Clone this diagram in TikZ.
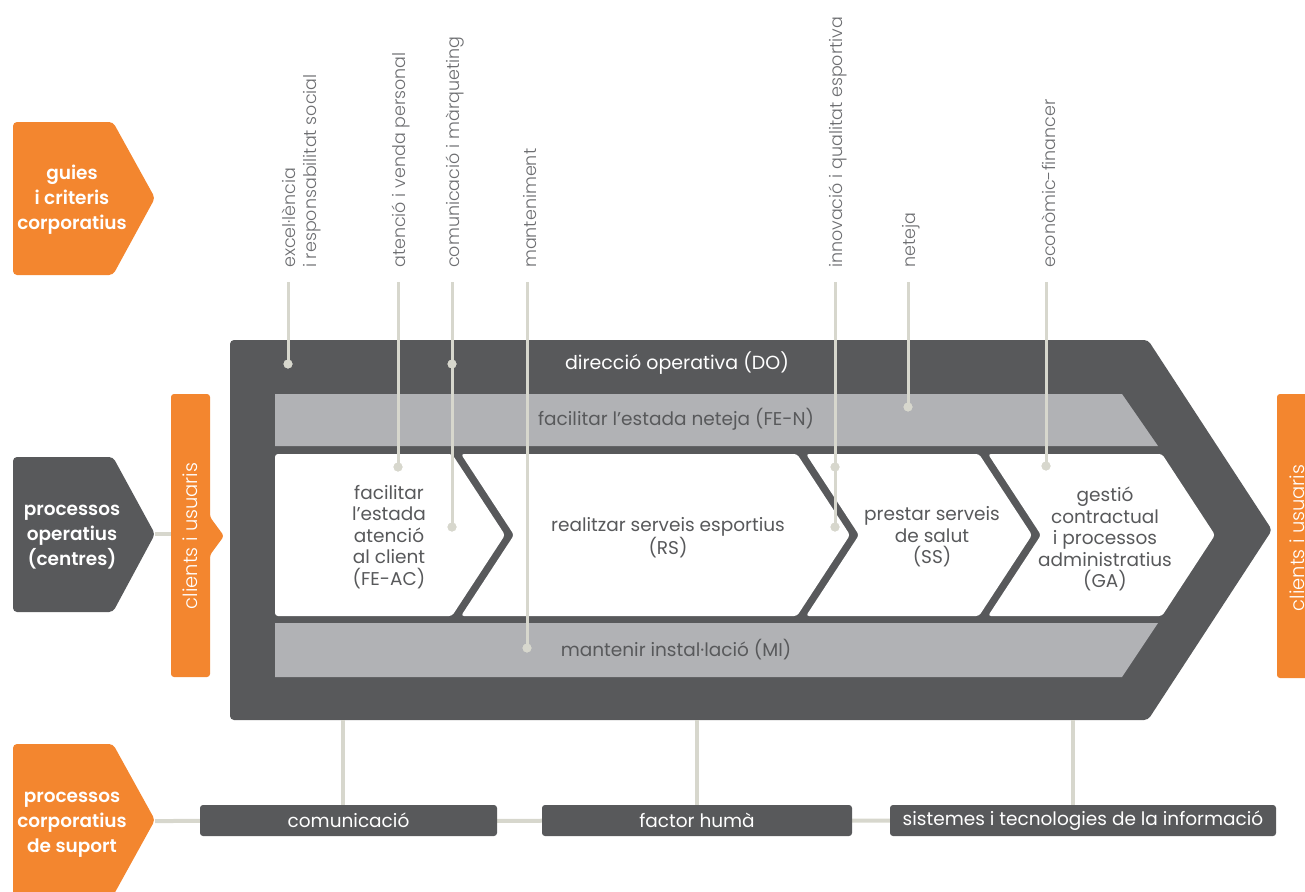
\documentclass[tikz,border=0pt]{standalone}
\usepackage{fontspec}
\setmainfont{Poppins}
\newfontfamily\lightf{Poppins Light}
\newfontfamily\medf{Poppins SemiBold}
\usetikzlibrary{backgrounds}
\definecolor{orng}{HTML}{F3862F}
\definecolor{dgray}{HTML}{58595B}
\definecolor{lgray}{HTML}{B1B2B5}
\definecolor{leadc}{HTML}{D7D7CD}
\definecolor{labc}{HTML}{6D6E71}
\begin{document}
\begin{tikzpicture}[x=1pt,y=-1pt,
  lead/.style={draw=leadc, line width=3pt},
  dotn/.style={circle, fill=leadc, inner sep=0pt, minimum size=9pt},
  toplabel/.style={rotate=90, anchor=west, text=labc, inner sep=0pt, align=left,
     font=\lightf\fontsize{17.5}{21}\selectfont},
  chevtext/.style={text=dgray, align=center, font=\fontsize{18.5}{21.5}\selectfont},
  striptext/.style={text=dgray, font=\fontsize{18.5}{21}\selectfont},
  lefttext/.style={text=white, align=center, font=\medf\fontsize{18.5}{25}\selectfont},
  clienttext/.style={rotate=90, text=white, font=\lightf\fontsize{19.5}{21}\selectfont},
  supbox/.style={fill=dgray, text=white, rounded corners=3pt, minimum height=31pt,
     inner sep=0pt, font=\fontsize{18.5}{21}\selectfont}
]
\useasboundingbox (0,0) rectangle (1305,891);
\clip (0,0) rectangle (1305,891);

% left labels
\fill[orng, rounded corners=4pt] (13,122) -- (113,122) -- (155,198) -- (113,275) -- (13,275) -- cycle;
\node[lefttext] (guies) at (72,200) {guies\\i criteris\\corporatius};
\fill[dgray, rounded corners=4pt] (13,457) -- (113,457) -- (155,534) -- (113,612) -- (13,612) -- cycle;
\coordinate (optip) at (155,534);
\node[lefttext] (oper) at (72,537) {processos\\operatius\\(centres)};
\fill[orng, rounded corners=4pt] (13,744) -- (113,744) -- (155,820) -- (113,896) -- (13,896) -- cycle;
\coordinate (suptip) at (155,821);
\node[lefttext] (supp) at (72,825) {processos\\corporatius\\de suport};

% clients bars
\fill[orng, rounded corners=3pt] (171,394) -- (210,394) -- (210,517) -- (224,536) -- (210,555) -- (210,677) -- (171,677) -- cycle;
\coordinate (clL) at (171,534);
\node[clienttext] (cliL) at (190,536) {clients i usuaris};
\fill[orng, rounded corners=3pt] (1277,394) rectangle (1320,678);
\node[clienttext] (cliR) at (1297,538) {clients i usuaris};
\draw[lead, line width=4pt] (optip) -- (clL);

% main chevron
\fill[dgray, rounded corners=4pt] (230,340) -- (1148,340) -- (1272,530) -- (1148,720) -- (230,720) -- cycle;
\node[text=white, font=\fontsize{19}{21}\selectfont] (do) at (677,363) {direcció operativa (DO)};

% strips
\fill[lgray] (275,394) -- (1122,394) -- (1158,446) -- (275,446) -- cycle;
\node[striptext] (fen) at (676,419) {facilitar l’estada neteja (FE-N)};
\fill[lgray] (275,623) -- (1158,623) -- (1122,677) -- (275,677) -- cycle;
\node[striptext] (mi) at (676,650) {mantenir instal·lació (MI)};

% white chevrons
\fill[white, rounded corners=3pt] (275,454) -- (452,454) -- (505,535) -- (452,616) -- (275,616) -- cycle;
\fill[white, rounded corners=3pt] (461,454) -- (797,454) -- (850,535) -- (797,616) -- (461,616) -- (514,535) -- cycle;
\fill[white, rounded corners=3pt] (806,454) -- (979,454) -- (1032,535) -- (979,616) -- (806,616) -- (859,535) -- cycle;
\fill[white, rounded corners=3pt] (988,454) -- (1162,454) -- (1215,535) -- (1162,616) -- (988,616) -- (1041,535) -- cycle;
\node[chevtext] (feac) at (389,537) {facilitar\\l’estada\\atenció\\al client\\(FE-AC)};
\node[chevtext] (rs) at (668,538) {realitzar serveis esportius\\(RS)};
\node[chevtext] (ss) at (932,537) {prestar serveis\\de salut\\(SS)};
\node[chevtext] (ga) at (1105,539) {gestió\\contractual\\i processos\\administratius\\(GA)};

% top labels
\node[toplabel] (l1) at (302,268) {excel·lència\\i responsabilitat social};
\node[toplabel] (l2) at (401,268) {atenció i venda personal};
\node[toplabel] (l3) at (455,268) {comunicació i màrqueting};
\node[toplabel] (l4) at (530,268) {manteniment};
\node[toplabel] (l5) at (838,268) {innovació i qualitat esportiva};
\node[toplabel] (l6) at (911,268) {neteja};
\node[toplabel] (l7) at (1049,268) {econòmic-financer};

\coordinate (t1) at (288,282); \coordinate (t2) at (398,282); \coordinate (t3) at (452,282);
\coordinate (t4) at (527,282); \coordinate (t5) at (835,282); \coordinate (t6) at (908,282);
\coordinate (t7) at (1046,282);

\node[dotn] (d1) at (288,364) {};
\node[dotn] (d2) at (398,467) {};
\node[dotn] (d3a) at (452,364) {};
\node[dotn] (d3b) at (452,527) {};
\node[dotn] (d4) at (527,648) {};
\node[dotn] (d5a) at (835,467) {};
\node[dotn] (d5b) at (835,527) {};
\node[dotn] (d6) at (908,407) {};
\node[dotn] (d7) at (1046,466) {};
\draw[lead] (t1) -- (d1.center);
\draw[lead] (t2) -- (d2.center);
\draw[lead] (t3) -- (d3a.center) -- (d3b.center);
\draw[lead] (t4) -- (d4.center);
\draw[lead] (t5) -- (d5a.center) -- (d5b.center);
\draw[lead] (t6) -- (d6.center);
\draw[lead] (t7) -- (d7.center);
\node[dotn] at (d1) {};
\node[dotn] at (d2) {};
\node[dotn] at (d3a) {};
\node[dotn] at (d3b) {};
\node[dotn] at (d4) {};
\node[dotn] at (d5a) {};
\node[dotn] at (d5b) {};
\node[dotn] at (d6) {};
\node[dotn] at (d7) {};

% support
\coordinate (b1) at (343,720); \coordinate (b2) at (697,720); \coordinate (b3) at (1073,720);
\node[supbox, minimum width=297pt] (com) at (348.5,820.5) {comunicació};
\node[supbox, minimum width=310pt] (fh) at (697,820.5) {factor humà};
\node[supbox, minimum width=386pt] (sis) at (1083,820.5) {sistemes i tecnologies de la informació};
\begin{scope}[on background layer]
\draw[lead, line width=4pt] (suptip) -- (sis.west);
\end{scope}
\draw[lead, line width=4pt] (b1) -- (b1 |- com.north);
\draw[lead, line width=4pt] (b2) -- (b2 |- fh.north);
\draw[lead, line width=4pt] (b3) -- (b3 |- sis.north);
\end{tikzpicture}
\end{document}
